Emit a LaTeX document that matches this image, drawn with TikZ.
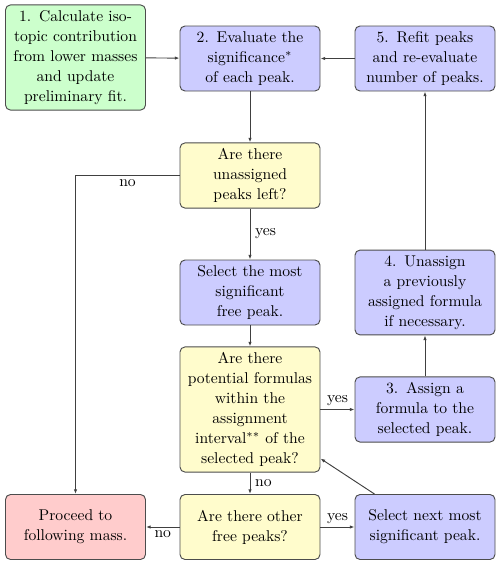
\documentclass[tikz,border=0pt]{standalone}
\usetikzlibrary{arrows.meta,calc}
\begin{document}
\begin{tikzpicture}[x=0.64pt,y=-0.64pt,
  box/.style={draw=black!70, line width=0.6pt, rounded corners=3.2pt, align=center,
    text width=82pt, minimum width=89.6pt, minimum height=41.6pt, inner xsep=3.8pt, inner ysep=3.5pt,
    font=\fontsize{10}{12.8}\selectfont},
  gbox/.style={box, fill=green!20},
  bbox/.style={box, fill=blue!20},
  ybox/.style={box, fill=yellow!20},
  rbox/.style={box, fill=red!20},
  conn/.style={draw=black!75, line width=0.6pt, -{Latex[length=3pt,width=2.2pt]}},
  lab/.style={font=\fontsize{10}{12}\selectfont, inner sep=1pt}
]
\useasboundingbox (0,0) rectangle (500,566);
\node[gbox] (b1) at (75.5,57.5) {1. Calculate iso-\\topic contribution\\from lower masses\\and update\\preliminary fit.};
\node[bbox] (b2) at (250,58.5) {2. Evaluate the\\significance$^*$\\of each peak.};
\node[bbox] (b5) at (425,58.5) {5. Refit peaks\\and re-evaluate\\number of peaks.};
\node[ybox] (q1) at (250,175.5) {Are there\\unassigned\\peaks left?};
\node[bbox] (sel) at (250,292.5) {Select the most\\significant\\free peak.};
\node[bbox] (b4) at (425,292.5) {4. Unassign\\a previously\\assigned formula\\if necessary.};
\node[ybox] (q2) at (250,409.5) {Are there\\potential formulas\\within the\\assignment\\interval$^{**}$ of the\\selected peak?};
\node[bbox] (b3) at (425,409.5) {3. Assign a\\formula to the\\selected peak.};
\node[rbox] (pro) at (75.5,527) {Proceed to\\following mass.};
\node[ybox] (q3) at (250,527) {Are there other\\free peaks?};
\node[bbox] (nxt) at (425,527) {Select next most\\significant peak.};

\draw[conn] (b1) -- (b2);
\draw[conn] (b5) -- (b2);
\draw[conn] (b2) -- (q1);
\draw[conn] (q1) -- node[lab, right=2pt] {yes} (sel);
\draw[conn] (q1.west) -| node[lab, pos=0.25, below=1pt] {no} (pro.north);
\draw[conn] (sel) -- (q2);
\draw[conn] (q2) -- node[lab, above=1pt] {yes} (b3);
\draw[conn] (b3) -- (b4);
\draw[conn] (b4) -- (b5);
\draw[conn] (q2) -- node[lab, right=2pt] {no} (q3);
\draw[conn] (q3) -- node[lab, below=1pt] {no} (pro);
\draw[conn] (q3) -- node[lab, above=1pt] {yes} (nxt);
\coordinate (nxtA) at ($(nxt.north west)+(20,0)$);
\coordinate (q2A) at ($(q2.south east)+(0,-14)$);
\draw[conn] (nxtA) -- (q2A);
\end{tikzpicture}
\end{document}
